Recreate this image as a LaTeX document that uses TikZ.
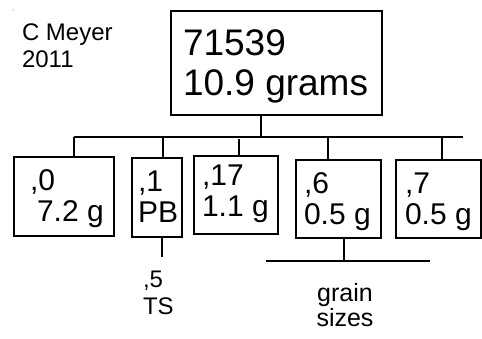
\documentclass[tikz,border=0pt]{standalone}
\usepackage{fontspec}
\setmainfont{Liberation Sans}
\begin{document}
\begin{tikzpicture}[x=1pt, y=-1pt,
  box/.style={draw, line width=1.6pt, inner sep=0pt, outer sep=0pt, anchor=north west},
  txt/.style={inner sep=0pt, outer sep=0pt, anchor=north west, align=left},
  wire/.style={line width=1.6pt},
  big/.style={font=\fontsize{37}{40}\selectfont},
  mid/.style={font=\fontsize{30}{31}\selectfont},
  small/.style={font=\fontsize{24}{27}\selectfont},
  note/.style={font=\fontsize{25}{25}\selectfont}]
\useasboundingbox (0,0) rectangle (482,339);

% credit
\fill[gray] (13,10) circle (0.7);
\node[txt, small] (credit) at (22,24) {C Meyer\\2011};

% parent sample
\node[box, minimum width=211pt, minimum height=104pt] (top) at (171,11) {};
\node[txt, big] (toptxt) at (183,30) {71539\\10.9 grams};

% splits
\node[box, minimum width=100pt, minimum height=79pt] (b0) at (14,157) {};
\node[box, minimum width=50pt, minimum height=79pt] (b1) at (132,158) {};
\node[box, minimum width=84pt, minimum height=78pt] (b17) at (194,156) {};
\node[box, minimum width=85pt, minimum height=78pt] (b6) at (296,160) {};
\node[box, minimum width=85pt, minimum height=78pt] (b7) at (396,160) {};

\node[txt, mid] (t0) at (30,170) {,0\\\hspace*{7pt}7.2 g};
\node[txt, mid] (t1) at (138,171) {,1\\PB};
\node[txt, mid] (t17) at (202,165) {,17\\1.1 g};
\node[txt, mid] (t6) at (304,173) {,6\\0.5 g};
\node[txt, mid] (t7) at (405,173) {,7\\0.5 g};

% bus
\coordinate (busL) at (74,137);
\coordinate (busR) at (463,137);
\draw[wire] (busL) -- (busR);
\draw[wire] ([xshift=-15.5pt]top.south) -- ([xshift=-15.5pt]top.south |- busL);
\draw[wire] ([xshift=10pt]b0.north) -- ([xshift=10pt]b0.north |- busL);
\draw[wire] ([xshift=6pt]b1.north) -- ([xshift=6pt]b1.north |- busL);
\draw[wire] ([xshift=3pt]b17.north) -- ([xshift=3pt,yshift=-2pt]b17.north |- busL);
\draw[wire] ([xshift=-10.5pt]b6.north) -- ([xshift=-10.5pt]b6.north |- busL);
\draw[wire] ([xshift=3.5pt]b7.north) -- ([xshift=3.5pt]b7.north |- busL);

% thin section
\coordinate (tsend) at (162,257);
\draw[wire] (b1.south -| tsend) -- (tsend);
\node[txt, small] (ts) at (143,271) {,5\\TS};

% grain sizes
\coordinate (gsL) at (266,261);
\coordinate (gsR) at (430,261);
\draw[wire] (gsL) -- (gsR);
\draw[wire] ([xshift=5.5pt]b6.south) -- ([xshift=5.5pt]b6.south |- gsL);
\node[inner sep=0pt, anchor=north, align=center, note] (gs) at (345,283) {grain\\sizes};
\end{tikzpicture}
\end{document}
